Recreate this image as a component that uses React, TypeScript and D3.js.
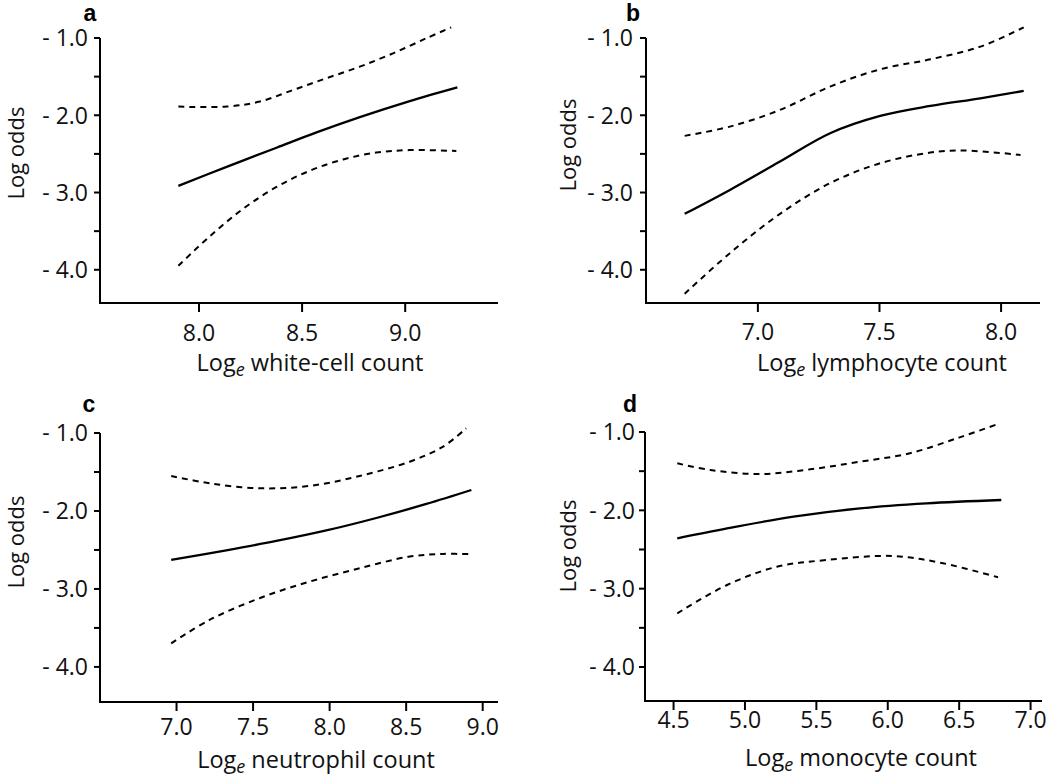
import React from "react";
import * as d3 from "d3";

type Pt = [number, number];

const yMajorTicks = [-1, -2, -3, -4];
const yMinorTicks = [-1.5, -2.5, -3.5];

// Panel a: white-cell count
const wbcTicks = [8.0, 8.5, 9.0];
const wbcFit: Pt[] = [[7.9, -2.914], [8.134, -2.668], [8.376, -2.42], [8.57, -2.222], [8.78, -2.024], [9.022, -1.816], [9.253, -1.638]];
const wbcUpper: Pt[] = [[7.9, -1.888], [8.134, -1.888], [8.295, -1.823], [8.457, -1.672], [8.618, -1.521], [8.78, -1.371], [8.941, -1.198], [9.102, -1.004], [9.223, -0.862]];
const wbcLower: Pt[] = [[7.9, -3.948], [8.053, -3.565], [8.215, -3.209], [8.376, -2.927], [8.537, -2.718], [8.699, -2.572], [8.86, -2.483], [9.022, -2.451], [9.248, -2.462]];

// Panel b: lymphocyte count
const lymTicks = [7.0, 7.5, 8.0];
const lymFit: Pt[] = [[6.699, -3.276], [6.885, -2.966], [7.091, -2.599], [7.297, -2.233], [7.503, -2.009], [7.709, -1.879], [7.915, -1.78], [8.093, -1.685]];
const lymUpper: Pt[] = [[6.699, -2.267], [6.885, -2.147], [7.091, -1.931], [7.297, -1.629], [7.503, -1.405], [7.709, -1.276], [7.915, -1.112], [8.093, -0.862]];
const lymLower: Pt[] = [[6.699, -4.31], [6.885, -3.785], [7.091, -3.276], [7.297, -2.879], [7.503, -2.621], [7.709, -2.483], [7.846, -2.457], [8.08, -2.513]];

// Panel c: neutrophil count
const neuTicks = [7.0, 7.5, 8.0, 8.5, 9.0];
const neuFit: Pt[] = [[6.965, -2.628], [7.325, -2.505], [7.652, -2.385], [7.978, -2.25], [8.305, -2.09], [8.632, -1.91], [8.926, -1.731]];
const neuUpper: Pt[] = [[6.965, -1.551], [7.216, -1.645], [7.542, -1.709], [7.869, -1.679], [8.196, -1.551], [8.523, -1.368], [8.741, -1.175], [8.892, -0.94]];
const neuLower: Pt[] = [[6.965, -3.697], [7.216, -3.397], [7.542, -3.119], [7.869, -2.906], [8.196, -2.735], [8.523, -2.585], [8.741, -2.551], [8.937, -2.555]];

// Panel d: monocyte count
const monTicks = [4.5, 5.0, 5.5, 6.0, 6.5, 7.0];
const monFit: Pt[] = [[4.526, -2.357], [4.875, -2.23], [5.34, -2.081], [5.806, -1.975], [6.272, -1.911], [6.795, -1.868]];
const monUpper: Pt[] = [[4.526, -1.4], [4.758, -1.485], [5.108, -1.536], [5.457, -1.477], [5.806, -1.379], [6.155, -1.272], [6.504, -1.068], [6.772, -0.898]];
const monLower: Pt[] = [[4.526, -3.315], [4.875, -2.953], [5.224, -2.72], [5.573, -2.634], [6.038, -2.583], [6.387, -2.676], [6.772, -2.855]];

const FONT = "'Open Sans', sans-serif";
const LETTER_FONT = "'Liberation Sans', Arial, sans-serif";

interface PanelSpec {
  letter: string;
  xName: string;
  xTicks: number[];
  xDomain: [number, number];
  yBottomVal: number;
  fit: Pt[];
  upper: Pt[];
  lower: Pt[];
  axisX: number;
  xEnd: number;
  yTop: number;
  yBottom: number;
  letterPos: [number, number];
  yLabPos: [number, number];
  tickLabelY: number;
  xLabPos: [number, number];
  yLabRight: number;
}

const panels: PanelSpec[] = [
  {
    letter: "a", xName: " white-cell count", xTicks: wbcTicks, xDomain: [7.52, 9.45], yBottomVal: -4.43,
    fit: wbcFit, upper: wbcUpper, lower: wbcLower,
    axisX: 100, xEnd: 498, yTop: 38, yBottom: 303, letterPos: [90, 21], yLabPos: [24, 153],
    tickLabelY: 341, xLabPos: [310, 371], yLabRight: 88,
  },
  {
    letter: "b", xName: " lymphocyte count", xTicks: lymTicks, xDomain: [6.54, 8.16], yBottomVal: -4.43,
    fit: lymFit, upper: lymUpper, lower: lymLower,
    axisX: 646, xEnd: 1040, yTop: 38, yBottom: 303, letterPos: [633, 21], yLabPos: [576, 145],
    tickLabelY: 340, xLabPos: [882, 371], yLabRight: 633,
  },
  {
    letter: "c", xName: " neutrophil count", xTicks: neuTicks, xDomain: [6.5, 9.1], yBottomVal: -4.45,
    fit: neuFit, upper: neuUpper, lower: neuLower,
    axisX: 100, xEnd: 498, yTop: 433, yBottom: 702, letterPos: [89, 412], yLabPos: [24, 542],
    tickLabelY: 735, xLabPos: [316, 768], yLabRight: 88,
  },
  {
    letter: "d", xName: " monocyte count", xTicks: monTicks, xDomain: [4.3, 7.08], yBottomVal: -4.434,
    fit: monFit, upper: monUpper, lower: monLower,
    axisX: 645, xEnd: 1042, yTop: 432, yBottom: 701, letterPos: [630, 412], yLabPos: [576, 546],
    tickLabelY: 728, xLabPos: [861, 766], yLabRight: 635,
  },
];

function Panel({ p }: { p: PanelSpec }) {
  const x = d3.scaleLinear().domain(p.xDomain).range([p.axisX, p.xEnd]);
  const y = d3.scaleLinear().domain([p.yBottomVal, -1]).range([p.yBottom, p.yTop]);
  const line = d3
    .line<Pt>()
    .x((d) => x(d[0]))
    .y((d) => y(d[1]))
    .curve(d3.curveCatmullRom.alpha(0.5));
  return (
    <g>
      <path d={line(p.upper) || ""} fill="none" stroke="#000" strokeWidth={2} strokeDasharray="6,5" />
      <path d={line(p.lower) || ""} fill="none" stroke="#000" strokeWidth={2} strokeDasharray="6,5" />
      <path d={line(p.fit) || ""} fill="none" stroke="#000" strokeWidth={2.3} />
      <path
        d={`M${p.axisX},${y(-1)}V${p.yBottom}H${p.xEnd}`}
        fill="none"
        stroke="#000"
        strokeWidth={2}
      />
      {yMajorTicks.concat(yMinorTicks).map((t) => (
        <line key={"yt" + t} x1={p.axisX - 6} x2={p.axisX} y1={y(t)} y2={y(t)} stroke="#000" strokeWidth={2} />
      ))}
      {yMajorTicks.map((t) => (
        <text
          key={"yl" + t}
          x={p.yLabRight}
          y={y(t)}
          dy="0.36em"
          textAnchor="end"
          fontFamily={FONT}
          fontSize={23}
          fill="#111"
        >
          {`- ${Math.abs(t).toFixed(1)}`}
        </text>
      ))}
      {p.xTicks.map((t) => (
        <line key={"xt" + t} x1={x(t)} x2={x(t)} y1={p.yBottom} y2={p.yBottom + 9} stroke="#000" strokeWidth={2} />
      ))}
      {p.xTicks.map((t) => (
        <text
          key={"xl" + t}
          x={x(t)}
          y={p.tickLabelY}
          textAnchor="middle"
          fontFamily={FONT}
          fontSize={23}
          fill="#111"
        >
          {t.toFixed(1)}
        </text>
      ))}
      <text x={p.xLabPos[0]} y={p.xLabPos[1]} textAnchor="middle" fontFamily={FONT} fontSize={23.5} fill="#111">
        Log
        <tspan dy={5} fontSize={18} fontStyle="italic">e</tspan>
        <tspan dy={-5}>{p.xName}</tspan>
      </text>
      <text
        transform={`translate(${p.yLabPos[0]},${p.yLabPos[1]}) rotate(-90)`}
        textAnchor="middle"
        fontFamily={FONT}
        fontSize={22}
        fill="#111"
      >
        Log odds
      </text>
      <text
        x={p.letterPos[0]}
        y={p.letterPos[1]}
        textAnchor="middle"
        fontFamily={LETTER_FONT}
        fontWeight="bold"
        fontSize={23}
        fill="#000"
      >
        {p.letter}
      </text>
    </g>
  );
}

export default function App() {
  return (
    <svg
      width={1050}
      height={779}
      style={{ position: "absolute", left: 0, top: 0, background: "#fff" }}
    >
      <rect x={0} y={0} width={1050} height={779} fill="#fff" />
      {panels.map((p) => (
        <Panel key={p.letter} p={p} />
      ))}
    </svg>
  );
}
